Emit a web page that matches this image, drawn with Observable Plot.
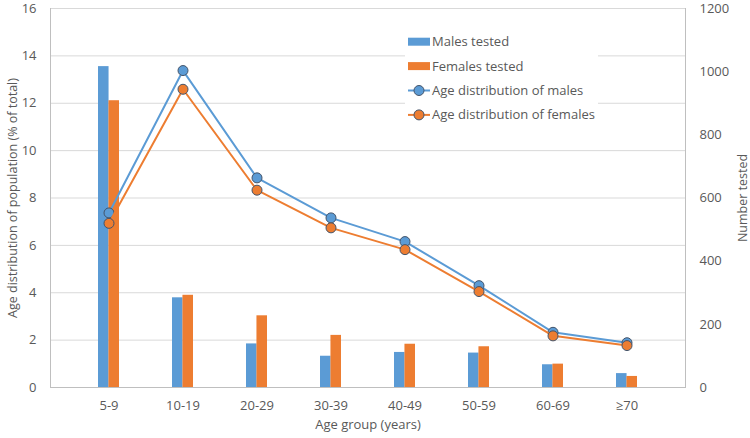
<!DOCTYPE html>
<html>
<head>
<meta charset="utf-8">
<script src="https://cdn.jsdelivr.net/npm/d3@7"></script>
<script src="https://cdn.jsdelivr.net/npm/@observablehq/plot@0.6"></script>
<style>
  html, body { margin: 0; padding: 0; background: #fff; }
  #wrap { position: relative; width: 750px; height: 438px; font-family: "Open Sans", sans-serif; }
  #legend { position: absolute; left: 405px; top: 28px; width: 193px; height: 100px; background: #fff; }
</style>
</head>
<body>
<div id="wrap"><div id="legend"></div></div>
<script>
const ageGroups = ["5-9", "10-19", "20-29", "30-39", "40-49", "50-59", "60-69", "≥70"];
const malesTested = [1016, 284, 138, 99, 111, 109, 72, 44];
const femalesTested = [908, 292, 227, 165, 137, 129, 74, 35];
const maleDist = [7.37, 13.38, 8.85, 7.16, 6.16, 4.30, 2.33, 1.89];
const femaleDist = [6.93, 12.59, 8.33, 6.74, 5.82, 4.05, 2.18, 1.77];
const leftTicks = [0, 2, 4, 6, 8, 10, 12, 14, 16];
const rightTicks = [0, 200, 400, 600, 800, 1000, 1200];
const seriesNames = ["Males tested", "Females tested", "Age distribution of males", "Age distribution of females"];
const xTitle = "Age group (years)";
const yLeftTitle = "Age distribution of population (% of total)";
const yRightTitle = "Number tested";

const BLUE = "#5B9BD5", ORANGE = "#ED7D31", TXT = "#595959", EDGE = "#44546A";
const ratio = rightTicks[rightTicks.length - 1] / leftTicks[leftTicks.length - 1]; // 75

const rows = ageGroups.map((g, i) => ({
  group: g, males: malesTested[i], females: femalesTested[i], md: maleDist[i], fd: femaleDist[i]
}));

const chart = Plot.plot({
  width: 750, height: 438,
  marginTop: 8, marginBottom: 51, marginLeft: 50, marginRight: 65,
  style: { fontFamily: "Open Sans, sans-serif", fontSize: "13px", color: TXT, background: "#fff" },
  x: { type: "band", domain: ageGroups, paddingInner: 0.72, paddingOuter: 0.61, label: null },
  y: { domain: [0, 16], label: null },
  marks: [
    Plot.ruleY(leftTicks, { stroke: "#D9D9D9", strokeWidth: 1 }),
    Plot.frame({ stroke: "#BFBFBF", anchor: "left" }),
    Plot.frame({ stroke: "#BFBFBF", anchor: "right" }),
    Plot.frame({ stroke: "#BFBFBF", anchor: "bottom" }),
    Plot.barY(rows, { x: "group", y: d => d.males / ratio, fill: BLUE, insetRight: 10.45 }),
    Plot.barY(rows, { x: "group", y: d => d.females / ratio, fill: ORANGE, insetLeft: 10.45 }),
    Plot.line(rows, { x: "group", y: "md", stroke: BLUE, strokeWidth: 2 }),
    Plot.dot(rows, { x: "group", y: "md", r: 5, fill: BLUE, stroke: EDGE, strokeWidth: 1 }),
    Plot.line(rows, { x: "group", y: "fd", stroke: ORANGE, strokeWidth: 2 }),
    Plot.dot(rows, { x: "group", y: "fd", r: 5, fill: ORANGE, stroke: EDGE, strokeWidth: 1 }),
    Plot.axisY({ anchor: "left", ticks: leftTicks, tickSize: 0, tickPadding: 14, label: null, fill: TXT }),
    Plot.axisY({ anchor: "right", ticks: rightTicks.map(v => v / ratio), tickFormat: v => String(Math.round(v * ratio)), tickSize: 0, tickPadding: 14, label: null, fill: TXT }),
    Plot.axisX({ tickSize: 0, tickPadding: 13, label: null, fill: TXT }),
    Plot.text([xTitle], { frameAnchor: "bottom", dy: 41, fill: TXT, fontSize: 13 }),
    Plot.text([yLeftTitle], { frameAnchor: "left", textAnchor: "middle", rotate: -90, dx: -38, fill: TXT, fontSize: 12.5 }),
    Plot.text([yRightTitle], { frameAnchor: "right", textAnchor: "middle", rotate: -90, dx: 57, fill: TXT, fontSize: 12.5 })
  ]
});
document.getElementById("wrap").prepend(chart);

// Legend
const colors = [BLUE, ORANGE, BLUE, ORANGE];
const kinds = ["bar", "bar", "line", "line"];
const lg = d3.select("#legend").append("svg").attr("width", 193).attr("height", 100)
  .style("font-family", "Open Sans, sans-serif").style("font-size", "13px");
seriesNames.forEach((name, i) => {
  const cy = 13.7 + i * 24.4;
  const g = lg.append("g");
  if (kinds[i] === "bar") {
    g.append("rect").attr("x", 3).attr("y", cy - 4).attr("width", 22).attr("height", 8).attr("fill", colors[i]);
  } else {
    g.append("line").attr("x1", 3).attr("x2", 25).attr("y1", cy).attr("y2", cy).attr("stroke", colors[i]).attr("stroke-width", 2);
    g.append("circle").attr("cx", 14).attr("cy", cy).attr("r", 5).attr("fill", colors[i]).attr("stroke", EDGE);
  }
  g.append("text").attr("x", 27).attr("y", cy).attr("dy", "0.35em").attr("fill", TXT).text(name);
});
</script>
</body>
</html>
